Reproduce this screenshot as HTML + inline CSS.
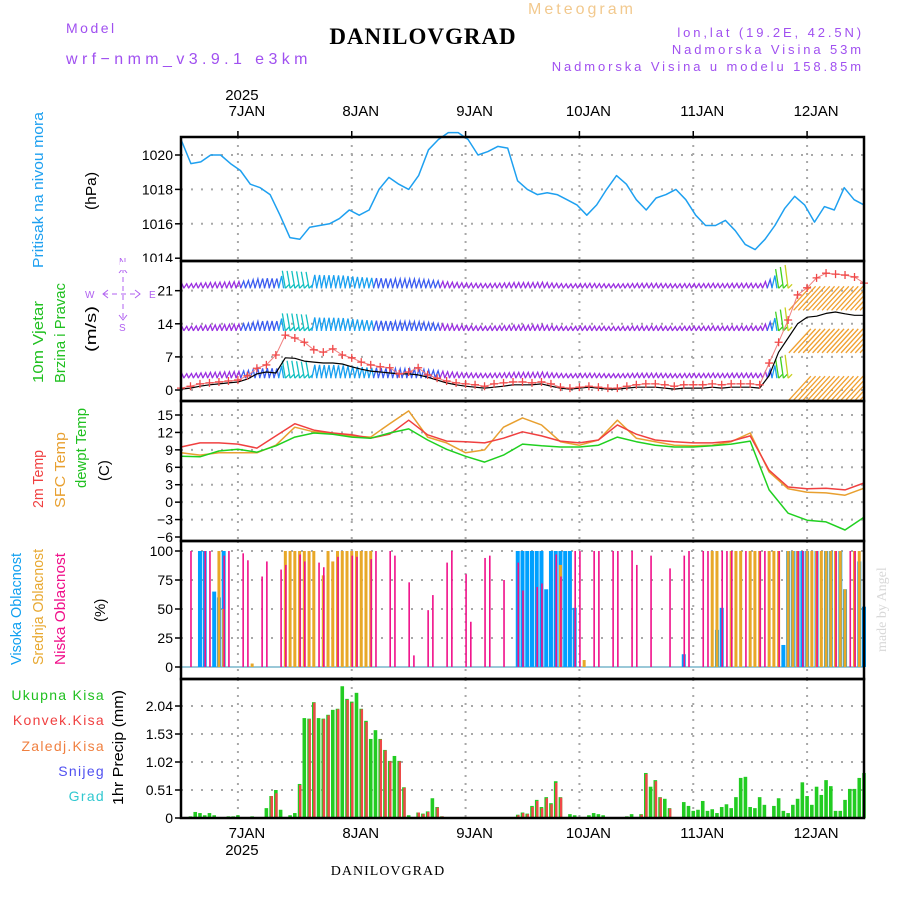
<!DOCTYPE html>
<html><head><meta charset="utf-8"><style>
html,body{margin:0;padding:0;background:#fff;}
svg{display:block;font-family:"Liberation Sans",sans-serif;}
</style></head><body>
<svg id="chart" xmlns="http://www.w3.org/2000/svg" width="900" height="900" viewBox="0 0 900 900">
<defs><clipPath id="wclip"><rect x="181" y="261" width="683" height="140"/></clipPath></defs>
<rect width="900" height="900" fill="#fff"/>
<text x="582" y="14" font-size="16" fill="#f2c98e" text-anchor="middle" letter-spacing="3">Meteogram</text>
<text x="423" y="44" font-size="23" font-weight="bold" font-family="Liberation Serif, serif" text-anchor="middle" letter-spacing="1">DANILOVGRAD</text>
<text x="66" y="33" font-size="14" fill="#a050f0" letter-spacing="2.5">Model</text>
<text x="66" y="64" font-size="16" fill="#a050f0" letter-spacing="4.4">wrf−nmm_v3.9.1 e3km</text>
<text x="864" y="37" font-size="13" fill="#a050f0" text-anchor="end" letter-spacing="2.9">lon,lat (19.2E, 42.5N)</text>
<text x="864" y="54" font-size="13" fill="#a050f0" text-anchor="end" letter-spacing="2.9">Nadmorska Visina 53m</text>
<text x="864" y="71" font-size="13" fill="#a050f0" text-anchor="end" letter-spacing="2.9">Nadmorska Visina u modelu 158.85m</text>
<text x="388" y="875" font-size="14" font-family="Liberation Serif, serif" text-anchor="middle" letter-spacing="1">DANILOVGRAD</text>
<text transform="translate(886,652) rotate(-90)" font-size="14" font-family="Liberation Serif, serif" fill="#d8d8d8">made by Angel</text>

<g font-family="Liberation Sans Narrow, Liberation Sans, sans-serif" font-size="15">
<text transform="translate(43,268) rotate(-90)" fill="#1ea0f0" textLength="156" lengthAdjust="spacingAndGlyphs">Pritisak na nivou mora</text>
<text transform="translate(96,210) rotate(-90)" fill="#000" textLength="38" lengthAdjust="spacingAndGlyphs">(hPa)</text>
<text transform="translate(43,383) rotate(-90)" fill="#20c020" textLength="82" lengthAdjust="spacingAndGlyphs">10m Vjetar</text>
<text transform="translate(65,383) rotate(-90)" fill="#20c020" textLength="100" lengthAdjust="spacingAndGlyphs">Brzina i Pravac</text>
<text transform="translate(96,352) rotate(-90)" fill="#000" textLength="46" lengthAdjust="spacingAndGlyphs">(m/s)</text>
<text transform="translate(43,508) rotate(-90)" fill="#f04040" textLength="58" lengthAdjust="spacingAndGlyphs">2m Temp</text>
<text transform="translate(65,508) rotate(-90)" fill="#e8a030" textLength="76" lengthAdjust="spacingAndGlyphs">SFC Temp</text>
<text transform="translate(86,488) rotate(-90)" fill="#20c020" textLength="80" lengthAdjust="spacingAndGlyphs">dewpt Temp</text>
<text transform="translate(109,481) rotate(-90)" fill="#000">(C)</text>
<text transform="translate(21,665) rotate(-90)" fill="#10a0f0" textLength="112" lengthAdjust="spacingAndGlyphs">Visoka Oblacnost</text>
<text transform="translate(43,665) rotate(-90)" fill="#e8a830" textLength="116" lengthAdjust="spacingAndGlyphs">Srednja Oblacnost</text>
<text transform="translate(65,665) rotate(-90)" fill="#f0108a" textLength="112" lengthAdjust="spacingAndGlyphs">Niska Oblacnost</text>
<text transform="translate(105,622) rotate(-90)" fill="#000">(%)</text>
<text transform="translate(123,805) rotate(-90)" fill="#000" textLength="115" lengthAdjust="spacingAndGlyphs">1hr Precip (mm)</text>
</g>
<g font-size="14" text-anchor="end" letter-spacing="1.3">
<text x="105" y="700" fill="#20c020">Ukupna Kisa</text>
<text x="105" y="725" fill="#f04040">Konvek.Kisa</text>
<text x="105" y="751" fill="#f08040">Zaledj.Kisa</text>
<text x="105" y="776" fill="#5050f0">Snijeg</text>
<text x="105" y="801" fill="#30c8d0">Grad</text>
</g>
<g fill="none" stroke="#b060f0" stroke-width="1">
<line x1="103" y1="294" x2="140" y2="294" stroke-dasharray="5,4"/>
<path d="M108,290 L103,294 L108,298 M135,290 L140,294 L135,298"/>
<line x1="123" y1="268" x2="123" y2="320" stroke-dasharray="5,4"/>
<path d="M119,273 L123,268 L127,273 M119,315 L123,320 L127,315"/>
<g stroke="none" fill="#b060f0" font-size="10"><text x="85" y="298">W</text><text x="149" y="298">E</text><text x="119" y="265">N</text><text x="119" y="331">S</text></g>
</g>
<g id="plot"></g>
</svg>
<script>
// ---- data ----
const dayLabels = ["7JAN","8JAN","9JAN","10JAN","11JAN","12JAN"];
const dayHours = [12,36,60,84,108,132];
const yearLabel = "2025";
const pressureTicks = [1014,1016,1018,1020];
const windTicks = [0,7,14,21];
const tempTicks = [-6,-3,0,3,6,9,12,15];
const cloudTicks = [0,25,50,75,100];
const precipTicks = [0,0.51,1.02,1.53,2.04];
const pressure = [1020.9,1019.5,1019.6,1020.0,1020.0,1019.5,1019.1,1018.3,1018.1,1017.7,1016.5,1015.2,1015.1,1015.8,1015.9,1016.0,1016.3,1016.8,1016.5,1016.8,1018.0,1018.7,1018.3,1018.0,1018.8,1020.3,1020.9,1021.3,1021.3,1020.9,1020.0,1020.2,1020.5,1020.4,1018.5,1018.0,1017.7,1017.8,1017.7,1017.4,1017.1,1016.5,1017.1,1018.0,1018.8,1018.3,1017.4,1016.8,1017.5,1017.7,1018.0,1017.4,1016.5,1015.9,1015.9,1016.2,1015.6,1014.8,1014.5,1015.1,1015.9,1016.9,1017.6,1017.1,1016.1,1017.0,1016.8,1018.1,1017.4,1017.1];
const windGust = [0.4,0.8,1.3,1.5,1.7,1.9,2.1,3.0,4.6,5.3,7.4,11.6,11.0,10.1,8.5,8.0,8.7,7.4,6.8,5.9,5.3,4.9,4.7,3.4,3.8,4.7,3.2,2.5,1.9,1.5,1.3,1.1,0.8,1.3,1.5,1.7,1.7,1.5,1.7,1.3,0.6,0.4,0.6,0.8,0.6,0.4,0.4,0.8,1.1,1.3,1.3,1.1,0.8,1.1,1.1,1.1,1.3,1.1,1.3,1.3,1.3,1.1,5.7,10.1,14.8,20.1,21.6,23.7,24.7,24.5,24.3,23.9,22.6];
const windSpeed = [0.2,0.4,0.8,1.1,1.3,1.5,1.7,2.3,3.4,3.8,3.6,6.8,6.7,6.1,5.9,5.7,5.7,5.5,4.9,4.4,4.0,3.8,3.6,3.4,3.4,3.2,2.7,2.1,1.5,1.1,0.8,0.6,0.4,0.6,0.8,1.1,1.1,1.1,1.3,0.8,0.4,0.2,0.4,0.6,0.4,0.2,0.2,0.4,0.6,0.6,0.6,0.4,0.2,0.4,0.4,0.4,0.6,0.4,0.6,0.6,0.6,0.4,3.0,8.0,11.0,14.0,15.4,15.6,16.2,16.5,16.1,15.8,15.8];
const barbLevels = [21.5,12.5,2.5];
const temp2m = [9.5,10.2,10.2,10.0,9.3,11.4,13.5,12.4,11.9,11.6,11.0,11.7,14.1,11.6,10.5,10.4,10.2,11.0,12.1,11.4,10.5,10.2,10.7,13.3,11.7,10.7,10.4,10.2,10.2,10.5,11.4,5.5,2.6,2.3,2.4,2.1,3.3];
const tempSfc = [8.5,8.1,8.5,8.5,8.5,9.8,12.9,12.1,11.9,11.4,11.2,13.5,15.7,11.2,10.2,8.5,9.0,12.9,14.5,13.3,10.4,9.8,10.7,14.1,11.0,10.4,9.8,9.7,9.8,10.4,11.9,5.2,2.3,1.7,1.6,1.2,2.4];
const tempDew = [7.9,7.8,8.8,9.1,8.6,9.7,11.2,11.9,11.7,11.2,11.0,11.9,12.6,10.7,9.1,7.9,6.9,8.1,10.0,9.7,9.5,9.5,9.8,11.2,10.4,9.8,9.5,9.5,9.7,10.0,10.5,2.1,-1.9,-3.1,-3.4,-4.8,-2.6];
const highHours = [4,5,7,8,9,71,72,73,74,75,76,77,78,79,80,81,82,83,106,113,114,127,128,129,130,131,132,134,136,137,139,140,143,144];
const highPct = [100,100,65,60,100,100,100,100,100,100,100,67,100,100,100,100,100,51,11,32,51,19,100,100,100,100,100,100,100,100,100,67,91,52];
const midHours = [8,9,15,22,23,24,25,26,27,28,30,31,32,33,34,35,36,37,38,39,40,80,85,112,113,116,117,118,120,121,122,124,125,126,128,129,130,132,133,134,135,136,137,138,139,140,142,143];
const midPct = [100,50,3,100,100,100,100,100,100,100,79,100,91,100,100,100,100,100,100,100,100,88,6,100,100,100,100,100,100,100,100,100,100,100,100,100,100,100,100,100,100,100,100,100,100,67,100,100];
const lowHours = [2,5,6,9,10,13,14,17,18,21,22,25,26,29,30,33,36,37,40,41,44,45,48,49,52,53,56,57,60,61,64,65,68,71,72,75,76,79,80,83,84,87,88,91,92,95,96,99,103,106,107,110,111,114,115,116,119,122,123,126,130,131,134,138,141,142];
const lowPct = [100,100,100,96,100,98,92,78,91,84,88,97,91,90,86,95,96,95,93,100,100,96,73,10,49,62,90,100,80,39,94,96,75,90,66,69,72,97,78,100,100,100,100,100,100,100,88,96,85,96,100,100,100,100,100,100,100,100,100,100,100,100,100,100,100,100];
const precipHours = [2,3,4,5,6,7,10,11,12,15,18,19,20,21,23,24,25,26,27,28,29,30,31,32,33,34,35,36,37,38,39,40,41,42,43,44,45,46,47,48,50,51,52,53,54,55,71,72,73,74,75,76,77,78,79,80,82,83,86,87,88,89,94,95,97,98,99,100,101,102,103,106,107,108,109,110,111,112,113,114,115,116,117,118,119,120,121,122,123,125,126,127,128,129,130,131,132,133,134,135,136,137,138,139,140,141,142,143,144];
const precipTotal = [0.03,0.11,0.09,0.05,0.09,0.05,0.03,0.03,0.05,0.03,0.18,0.4,0.51,0.15,0.05,0.09,0.62,1.82,1.81,2.11,1.82,1.81,1.88,1.97,1.99,2.40,2.17,2.12,2.28,1.99,1.77,1.44,1.60,1.44,1.24,1.04,1.13,1.04,0.56,0.05,0.1,0.08,0.12,0.36,0.2,0.03,0.06,0.10,0.08,0.22,0.33,0.20,0.38,0.27,0.67,0.38,0.07,0.05,0.05,0.09,0.07,0.05,0.03,0.07,0.07,0.82,0.57,0.69,0.38,0.35,0.18,0.29,0.22,0.13,0.15,0.31,0.13,0.16,0.09,0.20,0.25,0.18,0.38,0.73,0.75,0.20,0.18,0.38,0.24,0.22,0.36,0.13,0.09,0.24,0.35,0.65,0.40,0.24,0.57,0.42,0.69,0.58,0.13,0.13,0.33,0.53,0.53,0.73,0.82];
const precipConv = [0,0,0,0,0,0,0,0,0,0,0,0.4,0.45,0,0,0,0.6,0,1.8,2.1,0,1.8,1.87,0,1.98,0,2.15,2.1,0,1.98,1.75,0,0,1.43,1.23,1.03,0,1.03,0.55,0,0.1,0.07,0.11,0,0.19,0.03,0.05,0.09,0.07,0.2,0.31,0.18,0.36,0.25,0.64,0.37,0,0,0,0,0,0,0,0,0.06,0.8,0,0.67,0.37,0,0.17,0,0,0,0,0,0,0,0,0,0,0,0,0,0,0,0,0,0,0,0,0,0,0,0,0,0,0,0,0,0,0,0,0,0,0,0,0,0];

// ---- scales ----
const X0 = 181, X1 = 864, HSPAN = 144;
const xS = h => X0 + h * (X1 - X0) / HSPAN;
const yP = v => 155 + (1020 - v) * 17.2;
const yW = v => 390 - v * 4.73;
const yT = v => 415 + (15 - v) * 5.81;
const yC = v => 667 - v * 1.16;
const yR = v => 818 - v * 54.9;
const NS = "http://www.w3.org/2000/svg";
const plot = document.getElementById("plot");
function mk(tag, attrs, parent) {
  const e = document.createElementNS(NS, tag);
  for (const k in attrs) e.setAttribute(k, attrs[k]);
  (parent || plot).appendChild(e);
  return e;
}
function txt(s, attrs) { const e = mk("text", attrs); e.textContent = s; return e; }

const panels = [[137,261],[261,401],[401,541],[541,679],[679,818]];

panels.forEach(([t,b]) => {
  dayHours.forEach(h => {
    const g = mk("line",{x1:xS(h),x2:xS(h),y1:t,y2:b,stroke:"#a8a8a8","stroke-width":2,"stroke-dasharray":"2,6"});
    
    
  });
});
function hgrid(ticks, ys, skipFirst) {
  ticks.forEach((v,i) => {
    if (skipFirst && i === 0) return;
    const g = mk("line",{x1:X0,x2:X1,y1:ys(v),y2:ys(v),stroke:"#a8a8a8","stroke-width":2,"stroke-dasharray":"2,8"});
    
    
  });
}
hgrid(pressureTicks, yP, true);
hgrid(windTicks, yW, false);
hgrid(tempTicks, yT, true);
hgrid(cloudTicks, yC, false);
hgrid(precipTicks, yR, true);

function yticks(ticks, ys, fmt, name) {
  ticks.forEach(v => {
    const tk = mk("line",{x1:X0-6,x2:X0,y1:ys(v),y2:ys(v),stroke:"#000","stroke-width":1.5});
    
    
    const t = txt(fmt(v),{x:X0-8,y:ys(v)+5,"font-size":14,"text-anchor":"end",fill:"#000"});
    
    
  });
}
yticks(pressureTicks, yP, v => String(v), "pressure");
yticks(windTicks, yW, v => String(v), "wind");
yticks(tempTicks, yT, v => v < 0 ? "−" + Math.abs(v) : String(v), "temp");
yticks(cloudTicks, yC, v => String(v), "cloud");
yticks(precipTicks, yR, v => v === 0 ? "0" : v.toFixed(2), "precip");

function poly(vals, ys, color, name, width, parent) {
  const step = HSPAN / (vals.length - 1);
  const pts = vals.map((v,i) => xS(i*step).toFixed(1) + "," + ys(v).toFixed(1)).join(" ");
  const p = mk("polyline",{points:pts,fill:"none",stroke:color,"stroke-width":width||1.5,"stroke-linejoin":"round"}, parent);
  
  
  return p;
}
poly(pressure, yP, "#1ea0f0", "pressure-line", 1.5);

// wind barbs (clipped to panel)
const wg = mk("g",{"clip-path":"url(#wclip)"});


function barbColor(s) {
  if (s < 2) return "#9a2ee0";
  if (s < 4) return "#3a5cf0";
  if (s < 6) return "#18a0f0";
  if (s < 8) return "#10c0c0";
  if (s < 10) return "#40d020";
  if (s < 12) return "#c8d020";
  return "#f0a030";
}
const wStep = HSPAN / (windSpeed.length - 1);
barbLevels.forEach((lv, li) => {
  const yb = yW(lv);
  for (let h = 0; h <= HSPAN; h += 1) {
    const i = Math.min(Math.floor(h / wStep), windSpeed.length - 2);
    const f = h / wStep - i;
    const s = windSpeed[i] * (1 - f) + windSpeed[i+1] * f;
    const x = xS(h);
    const c = barbColor(s);
    let b;
    if (s >= 12) {
      b = mk("line",{x1:x-4,y1:yb+22,x2:x+18,y2:yb-2,stroke:c,"stroke-width":1.3}, wg);
    } else if (s >= 6) {
      b = mk("path",{d:`M${x},${yb} L${x-3},${yb-8-s*1.4} M${x},${yb} L${x+4},${yb-4}`,stroke:c,fill:"none","stroke-width":1.3}, wg);
    } else {
      const L = 4 + s * 1.6;
      b = mk("path",{d:`M${x-2},${yb} L${x+1},${yb-L} L${x+3},${yb}`,stroke:c,fill:"none","stroke-width":1.3}, wg);
    }
    
    
  }
});
poly(windSpeed, yW, "#000", "wind-speed-line", 1.2);
poly(windGust, yW, "#f08080", "wind-gust-line", 1);
const gStep = HSPAN / (windGust.length - 1);
windGust.forEach((v,i) => {
  const x = xS(i*gStep), y = yW(v);
  const c = mk("path",{d:`M${x-4},${y} L${x+4},${y} M${x},${y-4} L${x},${y+4}`,stroke:"#f04848","stroke-width":1.3});
  
  
});

poly(tempSfc, yT, "#e8a030", "sfc-temp-line", 1.5);
poly(temp2m, yT, "#f04040", "temp-2m-line", 1.5);
poly(tempDew, yT, "#20d020", "dewpoint-line", 1.5);

const cb = mk("line",{x1:X0,x2:X1,y1:yC(0),y2:yC(0),stroke:"#9ac8d8","stroke-width":2});


function cloudBars(hours, vals, color, w, off, name) {
  hours.forEach((h,i) => {
    const x = xS(h) + off;
    const r = mk("rect",{x:x - w/2, y:yC(vals[i]), width:w, height:yC(0)-yC(vals[i]), fill:color});
    
    
  });
}
cloudBars(highHours, highPct, "#00a0ff", 4, 0, "high-cloud-bar");
cloudBars(midHours, midPct, "#e8a828", 3, 0, "mid-cloud-bar");
cloudBars(lowHours, lowPct, "#f0108a", 1.6, 0.5, "low-cloud-bar");

precipHours.forEach((h,i) => {
  const x = xS(h);
  const g = mk("rect",{x:x-1.8,y:yR(precipTotal[i]),width:3.6,height:yR(0)-yR(precipTotal[i]),fill:"#22cc22"});
  
  
  if (precipConv[i] > 0) {
    const r = mk("rect",{x:x-0.6,y:yR(precipConv[i]),width:2.4,height:yR(0)-yR(precipConv[i]),fill:"#f04848"});
    
    
  }
});

const cover = mk("rect",{x:120,y:262,width:58,height:8,fill:"#fff"});


panels.forEach(([t,b]) => {
  const f = mk("rect",{x:X0,y:t,width:X1-X0,height:b-t,fill:"none",stroke:"#000","stroke-width":2.5});
  
  
});

dayHours.forEach((h,i) => {
  const tt = txt(dayLabels[i],{x:xS(h)+9,y:116,"font-size":15,"text-anchor":"middle"});
  
  
  const bt = txt(dayLabels[i],{x:xS(h)+9,y:838,"font-size":15,"text-anchor":"middle"});
  
  
  const tk = mk("line",{x1:xS(h),x2:xS(h),y1:131,y2:137,stroke:"#000","stroke-width":1.5});
  
  
});
const ty = txt(yearLabel,{x:xS(dayHours[0])+4,y:100,"font-size":15,"text-anchor":"middle"});


const by = txt(yearLabel,{x:xS(dayHours[0])+4,y:855,"font-size":15,"text-anchor":"middle"});


</script>
</body></html>
